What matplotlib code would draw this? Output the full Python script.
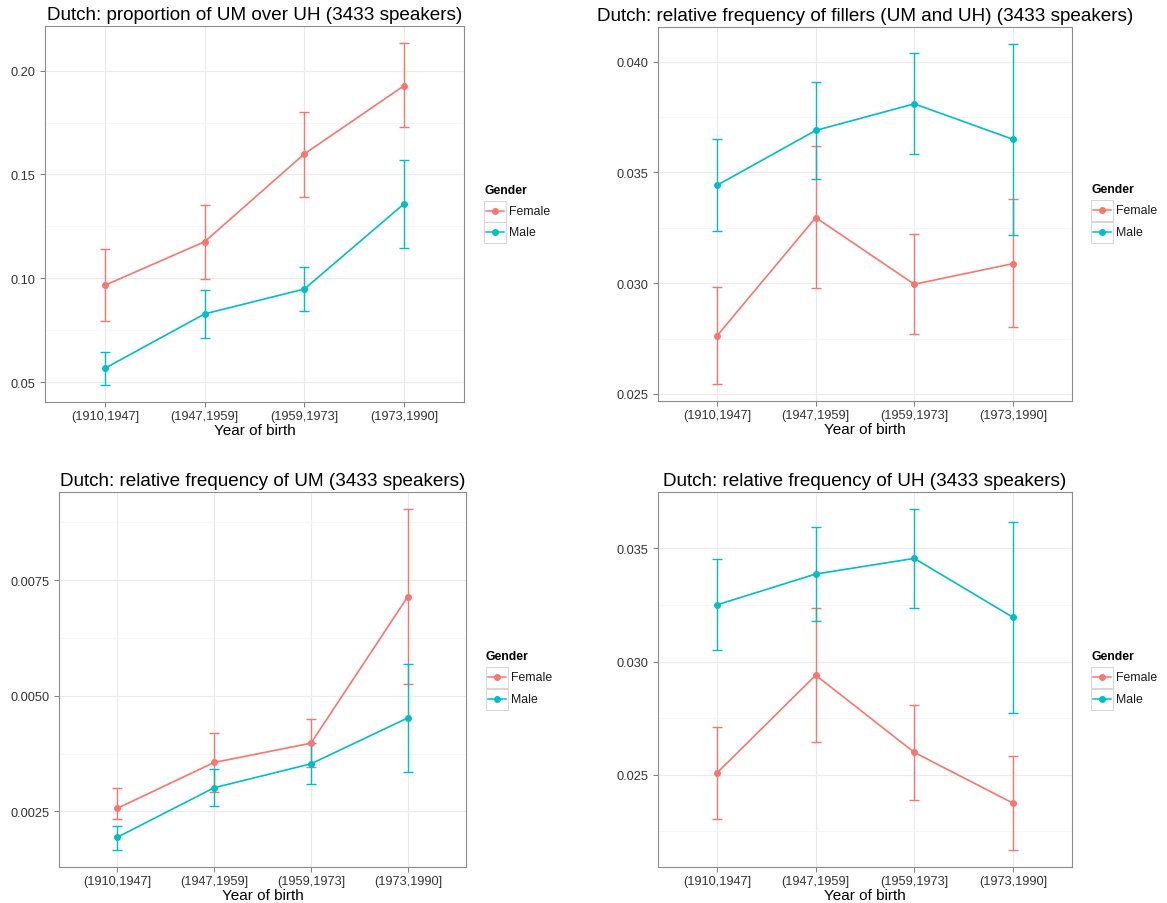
import matplotlib
matplotlib.use('Agg')
import matplotlib.pyplot as plt
from matplotlib.lines import Line2D
from matplotlib.patches import Rectangle
from matplotlib.ticker import FixedLocator, FormatStrFormatter
import numpy as np

plt.rcParams['font.family'] = ['Liberation Sans', 'DejaVu Sans']

W, H = 1167, 904

cohorts = ['(1910,1947]', '(1947,1959]', '(1959,1973]', '(1973,1990]']
genders = ['Female', 'Male']
colors = {'Female': '#F8766D', 'Male': '#00BFC4'}

# proportion of UM over UH: mean, lower, upper per gender
prop_female = [0.0966, 0.1176, 0.1599, 0.1928]
prop_female_lo = [0.0792, 0.0998, 0.1393, 0.1727]
prop_female_hi = [0.1139, 0.1354, 0.1801, 0.2133]
prop_male = [0.0566, 0.0828, 0.0948, 0.1359]
prop_male_lo = [0.0486, 0.0712, 0.0841, 0.1146]
prop_male_hi = [0.0645, 0.0942, 0.1054, 0.1571]

# relative frequency of fillers (UM and UH)
fill_female = [0.02763, 0.03296, 0.02995, 0.03088]
fill_female_lo = [0.02545, 0.02977, 0.02772, 0.02800]
fill_female_hi = [0.02981, 0.03620, 0.03222, 0.03378]
fill_male = [0.03442, 0.03689, 0.03809, 0.03649]
fill_male_lo = [0.03236, 0.03471, 0.03581, 0.03219]
fill_male_hi = [0.03650, 0.03907, 0.04039, 0.04079]

# relative frequency of UM
um_female = [0.002565, 0.003558, 0.003975, 0.007147]
um_female_lo = [0.002335, 0.002910, 0.003471, 0.005255]
um_female_hi = [0.002997, 0.004205, 0.004493, 0.009040]
um_male = [0.001939, 0.003011, 0.003529, 0.004522]
um_male_lo = [0.001666, 0.002608, 0.003083, 0.003356]
um_male_hi = [0.002191, 0.003414, 0.003975, 0.005687]

# relative frequency of UH
uh_female = [0.02509, 0.02940, 0.02599, 0.02375]
uh_female_lo = [0.02306, 0.02643, 0.02388, 0.02168]
uh_female_hi = [0.02712, 0.03238, 0.02810, 0.02584]
uh_male = [0.03251, 0.03387, 0.03456, 0.03196]
uh_male_lo = [0.03050, 0.03179, 0.03238, 0.02775]
uh_male_hi = [0.03453, 0.03594, 0.03674, 0.03618]


def px_rect(l, r, t, b):
    return [l / W, 1 - b / H, (r - l) / W, (b - t) / H]


def draw_legend(fig, x, y_title, y_rows):
    fig.text(x / W, 1 - y_title / H, 'Gender', fontsize=8.8, fontweight='bold',
             ha='left', va='center', color='black')
    kw, kh = 22, 21
    for g, yr in zip(genders, y_rows):
        fig.patches.append(Rectangle((x / W, 1 - (yr + kh / 2) / H), kw / W, kh / H,
                                     transform=fig.transFigure, facecolor='white',
                                     edgecolor='#D0D0D0', lw=0.6))
        fig.lines.append(Line2D([(x + 2) / W, (x + kw - 2) / W], [1 - yr / H] * 2,
                                transform=fig.transFigure, color=colors[g], lw=1.1))
        fig.lines.append(Line2D([(x + kw / 2) / W], [1 - yr / H],
                                transform=fig.transFigure, color=colors[g],
                                marker='o', ms=4, lw=0))
        fig.text((x + kw + 3) / W, 1 - yr / H, g, fontsize=8.8, ha='left',
                 va='center', color='#1A1A1A')


def panel(fig, rect, title, series, yticks, fmt, legend_pos):
    ax = fig.add_axes(rect)
    xs = np.arange(1, len(cohorts) + 1)
    all_lo, all_hi = [], []
    for g in genders:
        mean, lo, hi = series[g]
        mean, lo, hi = np.array(mean), np.array(lo), np.array(hi)
        all_lo.extend(lo)
        all_hi.extend(hi)
        ax.errorbar(xs, mean, yerr=[mean - lo, hi - mean], fmt='none',
                    ecolor=colors[g], elinewidth=1.0, capsize=3.8, capthick=1.0,
                    zorder=3)
        ax.plot(xs, mean, color=colors[g], lw=1.2, marker='o', ms=4, zorder=4)

    # ggplot-style 5% expansion around the error bars
    lo, hi = min(all_lo), max(all_hi)
    pad = 0.05 * (hi - lo)
    ax.set_ylim(lo - pad, hi + pad)
    ax.set_xlim(0.4, len(cohorts) + 0.6)

    ax.set_xticks(xs)
    ax.set_xticklabels(cohorts)
    ax.set_yticks(yticks)
    step = yticks[1] - yticks[0]
    minors = [t + step / 2 for t in [yticks[0] - step] + list(yticks)]
    ax.yaxis.set_minor_locator(FixedLocator(minors))
    ax.yaxis.set_major_formatter(FormatStrFormatter(fmt))

    ax.set_axisbelow(True)
    ax.grid(which='major', color='#EBEBEB', lw=0.8)
    ax.grid(which='minor', axis='y', color='#F6F6F6', lw=0.6)
    ax.tick_params(which='minor', length=0)
    ax.tick_params(which='major', length=3.5, width=0.7, color='#7F7F7F',
                   labelsize=9.2, labelcolor='#333333')
    ax.tick_params(axis='x', pad=2)
    ax.tick_params(axis='y', pad=3.5)
    for s in ax.spines.values():
        s.set_color('#8C8C8C')
        s.set_linewidth(0.8)

    ax.set_title(title, fontsize=13.6, color='black', pad=5)
    ax.set_xlabel('Year of birth', fontsize=11, labelpad=1)

    draw_legend(fig, *legend_pos)
    return ax


fig = plt.figure(figsize=(W / 100, H / 100), dpi=100, facecolor='white')

panel(fig, px_rect(45, 464, 27, 403),
      'Dutch: proportion of UM over UH (3433 speakers)',
      {'Female': (prop_female, prop_female_lo, prop_female_hi),
       'Male': (prop_male, prop_male_lo, prop_male_hi)},
      [0.05, 0.10, 0.15, 0.20], '%.2f', (484, 191, (212, 233)))

panel(fig, px_rect(658, 1072, 28, 402),
      'Dutch: relative frequency of fillers (UM and UH) (3433 speakers)',
      {'Female': (fill_female, fill_female_lo, fill_female_hi),
       'Male': (fill_male, fill_male_lo, fill_male_hi)},
      [0.025, 0.030, 0.035, 0.040], '%.3f', (1091, 190, (211, 233)))

panel(fig, px_rect(59, 466, 493, 868),
      'Dutch: relative frequency of UM (3433 speakers)',
      {'Female': (um_female, um_female_lo, um_female_hi),
       'Male': (um_male, um_male_lo, um_male_hi)},
      [0.0025, 0.0050, 0.0075], '%.4f', (486, 657, (678, 700)))

panel(fig, px_rect(658, 1072, 493, 868),
      'Dutch: relative frequency of UH (3433 speakers)',
      {'Female': (uh_female, uh_female_lo, uh_female_hi),
       'Male': (uh_male, uh_male_lo, uh_male_hi)},
      [0.025, 0.030, 0.035], '%.3f', (1091, 657, (678, 700)))

fig.savefig('out.png', dpi=100, facecolor='white')
